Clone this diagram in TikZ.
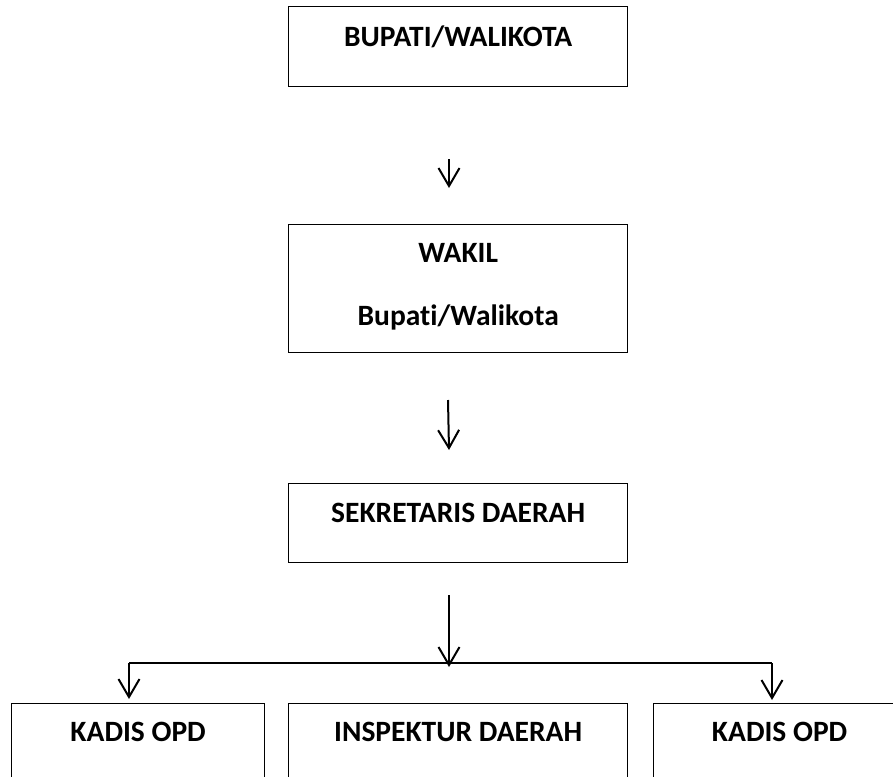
\documentclass[tikz,border=0pt]{standalone}
\usepackage{fontspec}
\setmainfont{Carlito}[Ligatures={NoCommon}]
\usetikzlibrary{arrows.meta}

\tikzset{
  kotak/.style={draw, line width=1.3pt, inner sep=0pt, anchor=north west,
    font=\bfseries\fontsize{29.5}{32}\selectfont},
  panah/.style={-{Straight Barb[length=18pt,width=21pt,line width=2pt]}, line width=2pt}
}

\begin{document}
\begin{tikzpicture}[x=1pt, y=-1pt]
  \clip (0,0) rectangle (893,776);
  % kotak atas
  \node[kotak, minimum width=339pt, text height=40pt, text depth=40pt] (bupati) at (288,6) {BUPATI/WALIKOTA};
  \node[kotak, minimum width=339pt, text height=101pt, text depth=27pt, align=center] (wakil) at (288,224) {WAKIL\\[31pt]Bupat\kern0pt i/Walikota};
  \node[kotak, minimum width=339pt, text height=39pt, text depth=40pt] (sekda) at (288,483) {SEKRETARIS DAERAH};
  % kotak bawah
  \node[kotak, minimum width=253pt, text height=38pt, text depth=80pt] (kadis1) at (11,703) {KADIS OPD};
  \node[kotak, minimum width=339pt, text height=38pt, text depth=80pt] (inspektur) at (288,703) {INSPEKTUR DAERAH};
  \node[kotak, minimum width=252pt, text height=38pt, text depth=80pt] (kadis2) at (653,703) {KADIS OPD};
  % panah
  \coordinate (a1) at (449,159);
  \coordinate (b1) at (449,188);
  \coordinate (a2) at (448,400);
  \coordinate (b2) at (449,450);
  \coordinate (a3) at (449,595);
  \coordinate (b3) at (449,667);
  \coordinate (kiri) at (129,663);
  \coordinate (kanan) at (772,663);
  \coordinate (ujung1) at (129,699);
  \coordinate (ujung2) at (772,700);
  \draw[panah] (a1) -- (b1);
  \draw[panah] (a2) -- (b2);
  \draw[panah] (a3) -- (b3);
  \draw[line width=1.3pt] (kiri) -- (kanan);
  \draw[panah] (kiri) -- (ujung1);
  \draw[panah] (kanan) -- (ujung2);
\end{tikzpicture}
\end{document}
